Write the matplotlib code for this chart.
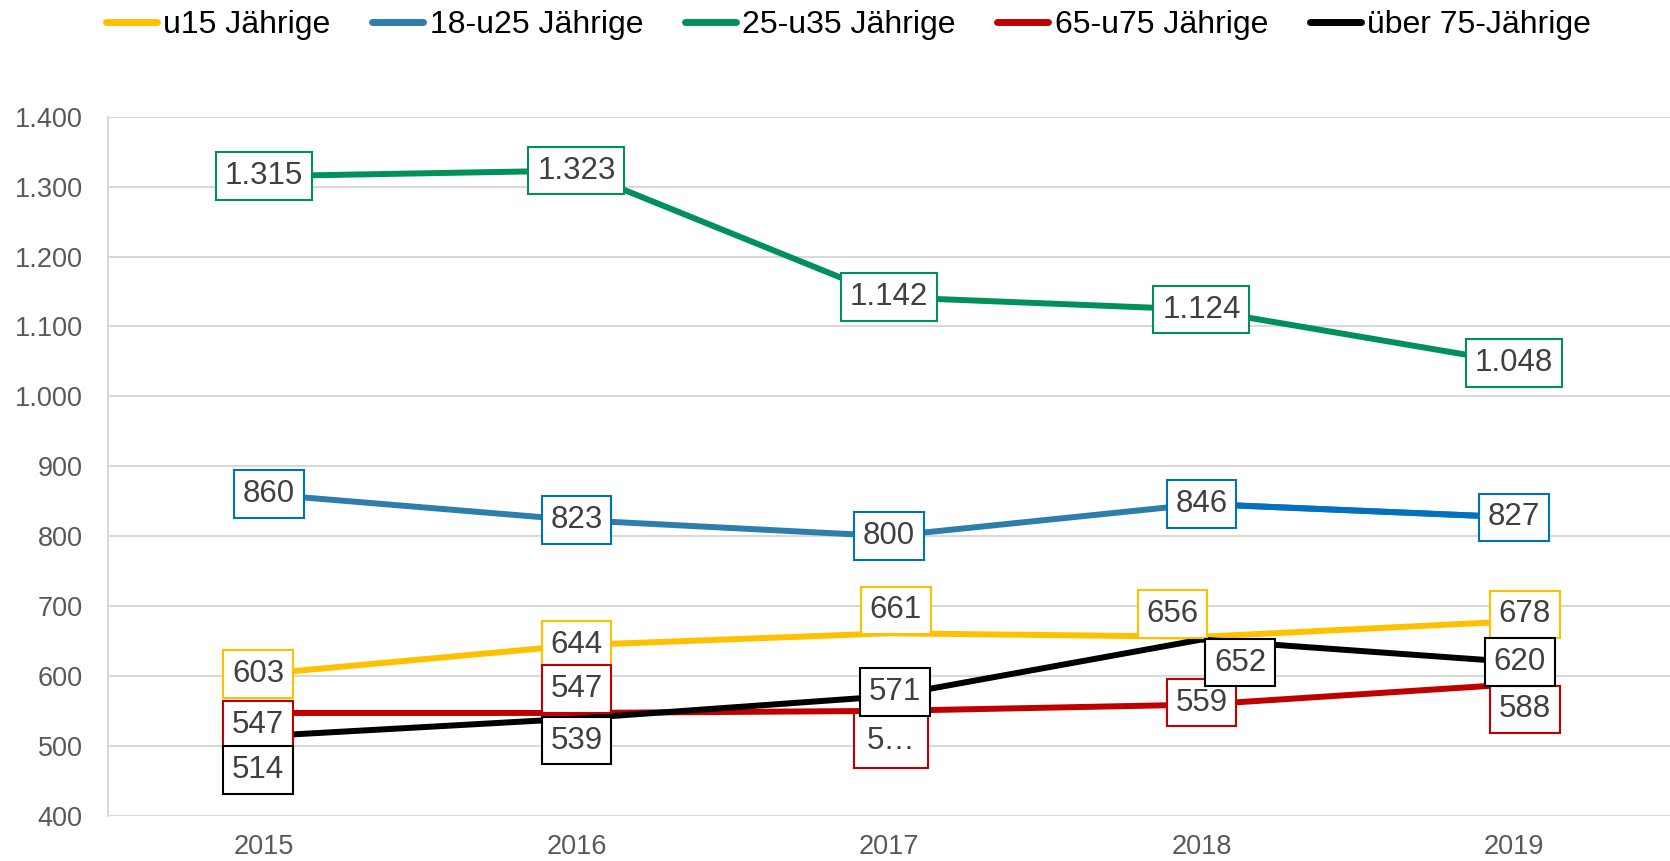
import matplotlib.pyplot as plt
from matplotlib.ticker import FuncFormatter
from matplotlib.lines import Line2D

plt.rcParams['font.family'] = ['Liberation Sans', 'DejaVu Sans']

years = ['2015', '2016', '2017', '2018', '2019']
series_names = ['u15 Jährige', '18-u25 Jährige', '25-u35 Jährige', '65-u75 Jährige', 'über 75-Jährige']
u15 = [603, 644, 661, 656, 678]
u25 = [860, 823, 800, 846, 827]
u35 = [1315, 1323, 1142, 1124, 1048]
u75 = [547, 547, 550, 559, 588]
ue75 = [514, 539, 571, 652, 620]

# shown label texts (one label in the original is cut off)
u75_text = ['547', '547', '5…', '559', '588']

colors = ['#FFC000', '#2E7EAC', '#00915A', '#C00000', '#000000']
box_colors = ['#FFC000', '#0070C0', '#00915A', '#C00000', '#000000']

# label offsets in pixels (dx, dy) per point
offsets = {
    0: [(-6, 0), (0, 0), (7, 23), (-29, 23), (11, 7)],
    1: [(5, 0), (0, 0), (0, 0), (0, 0), (0, 0)],
    2: [(0, 0), (0, 0), (0, 0), (0, 0), (0, 0)],
    3: [(-6, -12), (0, 24), (2, -30), (0, 2), (11, -25)],
    4: [(-6, -34), (0, -22), (6, 4), (39, -23), (6, 0)],
}

data = [u15, u25, u35, u75, ue75]
x = list(range(len(years)))

fig = plt.figure(figsize=(16.7, 8.61), dpi=100)
ax = fig.add_axes([0.0645, 0.0526, 0.9355, 0.8118])

for i, vals in enumerate(data):
    ax.plot(x, vals, color=colors[i], lw=4.3, solid_capstyle='butt', zorder=2 + i * 0.1)
# last blue segment is a brighter blue in the original
ax.plot(x[3:], u25[3:], color='#0070C0', lw=4.3, solid_capstyle='butt', zorder=2.15)

fmt = lambda v: f'{v:,}'.replace(',', '.')
for i, vals in enumerate(data):
    for j, v in enumerate(vals):
        txt = u75_text[j] if i == 3 else fmt(v)
        dx, dy = offsets[i][j]
        pad = 0.4 if txt == '5…' else 0.28
        ax.annotate(txt, (x[j], v), xytext=(dx, dy), textcoords='offset pixels',
                    ha='center', va='center', fontsize=22.5, color='#404040', zorder=5,
                    bbox=dict(boxstyle=f'square,pad={pad}', fc='white', ec=box_colors[i], lw=1.5))

ax.set_xlim(-0.5, 4.5)
ax.set_ylim(400, 1400)
ax.set_yticks(range(400, 1401, 100))
ax.yaxis.set_major_formatter(FuncFormatter(lambda v, p: fmt(int(v))))
ax.set_xticks(x)
ax.set_xticklabels(years)
ax.tick_params(axis='both', length=0, labelsize=19.5, colors='#595959')
ax.tick_params(axis='x', pad=13)
ax.tick_params(axis='y', pad=18)
ax.grid(axis='y', color='#D9D9D9', lw=1.5)
ax.set_axisbelow(True)
for s in ['top', 'right', 'bottom']:
    ax.spines[s].set_visible(False)
ax.spines['left'].set_color('#D9D9D9')
ax.spines['left'].set_linewidth(1.5)

handles = [Line2D([0], [0], color=c, lw=5, solid_capstyle='round') for c in colors]
fig.legend(handles, series_names, loc='center', bbox_to_anchor=(0.508, 1 - 25 / 861),
           ncol=5, frameon=False, handlelength=1.6, handletextpad=0.2, columnspacing=1.3,
           fontsize=23)

fig.savefig('out.png', dpi=100)
